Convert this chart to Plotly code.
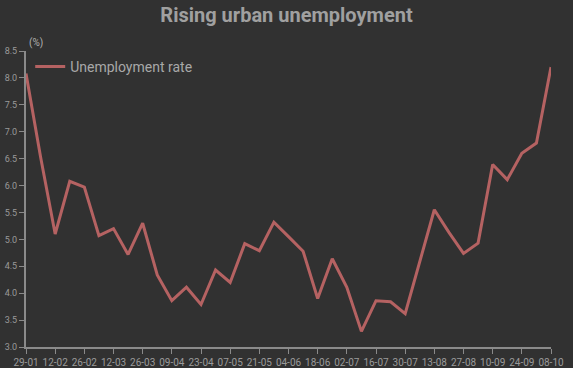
import plotly.graph_objects as go
import pandas as pd

dates = [d.strftime("%d-%m") for d in pd.date_range("2019-01-29", periods=37, freq="7D")]
rate = [8.08, 6.53, 5.10, 6.08, 5.97, 5.07, 5.20, 4.72, 5.30, 4.34,
        3.86, 4.11, 3.79, 4.43, 4.20, 4.92, 4.79, 5.32, 5.05, 4.78,
        3.90, 4.64, 4.11, 3.29, 3.86, 3.84, 3.62, 4.60, 5.55, 5.13,
        4.74, 4.93, 6.39, 6.11, 6.60, 6.79, 8.20]

bg = "#313131"
axis_col = "#8a8a8a"
txt = "#a8a8a8"

fig = go.Figure()
fig.add_trace(go.Scatter(
    x=dates, y=rate, mode="lines", name="Unemployment rate",
    line=dict(color="#b56262", width=3),
))

fig.update_layout(
    width=573, height=368,
    paper_bgcolor=bg, plot_bgcolor=bg,
    margin=dict(l=26, r=22, t=51, b=21, autoexpand=False),
    font=dict(family="Roboto", color=txt),
    title=dict(text="<b>Rising urban unemployment</b>", x=0.5, xanchor="center",
               y=1 - 15/368, yanchor="middle",
               font=dict(size=20, color="#a0a0a0", family="Roboto")),
    showlegend=True,
    legend=dict(x=0.008, y=1.0, xanchor="left", yanchor="top",
                bgcolor="rgba(0,0,0,0)", font=dict(size=14, color=txt),
                itemwidth=30),
    xaxis=dict(type="category", range=[0, len(dates) - 1], automargin=False,
               tickmode="array", tickvals=dates[::2], ticktext=dates[::2],
               showgrid=False, zeroline=False, showline=True, linecolor=axis_col, linewidth=2,
               ticks="outside", ticklen=5, tickcolor=axis_col, tickwidth=1,
               tickfont=dict(size=10, color="#9a9a9a")),
    yaxis=dict(range=[3.0, 8.5], dtick=0.5, tickformat=".1f", automargin=False,
               showgrid=False, zeroline=False, showline=True, linecolor=axis_col, linewidth=2,
               ticks="outside", ticklen=5, tickcolor=axis_col, tickwidth=1,
               tickfont=dict(size=9, color="#9a9a9a")),
    annotations=[dict(text="(%)", xref="paper", yref="paper", x=0.0, y=1.0,
                      xanchor="left", yanchor="bottom", showarrow=False, xshift=1,
                      font=dict(size=10, color="#b0b0b0"))],
)

fig.write_html("out.html", config={"displayModeBar": False},
               post_script="document.body.style.margin='0';document.body.style.background='%s';" % bg)
